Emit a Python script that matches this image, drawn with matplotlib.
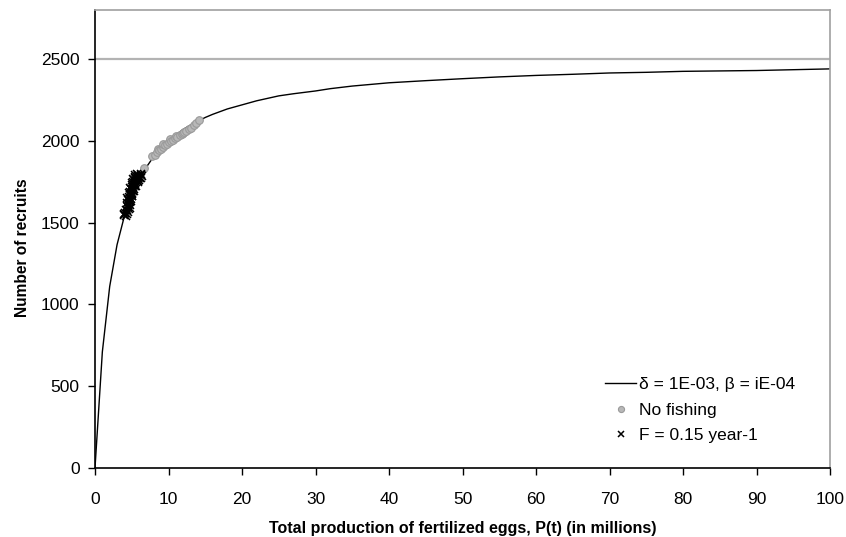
import numpy as np
import matplotlib.pyplot as plt

plt.rcParams['font.family'] = ['Liberation Sans', 'DejaVu Sans']

# stock-recruitment curve
curve_p = [0, 1, 2, 3, 4, 5, 6, 7, 8, 9, 10, 11, 12, 13, 14, 15, 16, 18, 20, 22, 25, 27,
           30, 32, 35, 40, 45, 50, 55, 60, 65, 70, 75, 80, 90, 100]
curve_r = [0, 710, 1110, 1365, 1540, 1665, 1765, 1840, 1905, 1957, 2000, 2037, 2070, 2097,
           2120, 2143, 2162, 2195, 2220, 2245, 2275, 2288, 2305, 2319, 2335, 2355, 2368,
           2380, 2391, 2400, 2407, 2415, 2419, 2425, 2430, 2440]

# no fishing simulation (grey circles)
nofish_p = [6.7, 7.8, 8.1, 8.4, 8.6, 8.7, 9.0, 9.2, 9.3, 9.5, 9.8, 10.0, 10.2, 10.3, 10.6,
            10.9, 11.0, 11.2, 11.5, 11.8, 12.0, 12.1, 12.4, 12.8, 13.1, 13.5, 13.8, 14.1]
nofish_r = [1832, 1905, 1915, 1930, 1950, 1942, 1950, 1962, 1978, 1972, 1980, 1990, 2010, 1998, 2008,
            2015, 2030, 2025, 2035, 2042, 2045, 2052, 2060, 2070, 2080, 2095, 2110, 2125]

# F = 0.15 simulation (crosses)
fish_p = [4.2, 4.3, 4.1, 4.5, 4.4, 4.2, 4.6, 4.5, 4.3, 4.7, 4.6, 4.4, 4.8, 4.7, 4.5, 4.9,
          4.8, 4.6, 5.0, 4.9, 4.7, 5.1, 5.0, 4.8, 5.2, 5.1, 4.9, 5.3, 5.2, 5.0, 5.4, 5.3,
          5.1, 5.5, 5.4, 5.2, 5.6, 5.5, 5.3, 5.7, 5.6, 5.4, 5.8, 5.7, 5.5, 5.9, 5.8, 6.0,
          6.1, 6.0, 5.9, 4.0, 6.2, 6.3, 3.9, 4.7, 4.9, 5.1, 5.3, 5.6, 5.8, 4.4, 4.6, 4.8,
          5.0, 5.2, 5.5, 5.7, 6.2, 6.4]
fish_r = [1540, 1555, 1560, 1565, 1575, 1580, 1585, 1595, 1600, 1605, 1615, 1620, 1625, 1635,
          1640, 1645, 1650, 1655, 1660, 1668, 1672, 1676, 1684, 1688, 1692, 1700, 1704, 1708,
          1715, 1718, 1722, 1730, 1733, 1737, 1744, 1747, 1751, 1757, 1760, 1763, 1768, 1771,
          1774, 1779, 1782, 1784, 1789, 1780, 1770, 1760, 1750, 1550, 1790, 1795, 1545, 1590,
          1630, 1665, 1695, 1725, 1755, 1650, 1680, 1710, 1740, 1765, 1790, 1800, 1775, 1785]

xticks = np.arange(0, 101, 10)
yticks = np.arange(0, 2501, 500)

fig = plt.figure(figsize=(8.46, 5.37), dpi=100)
ax = fig.add_axes([95/846, 1-468/537, (830-95)/846, (468-10)/537])

ax.axhline(2500, color='#b3b3b3', lw=1.6, zorder=0)
ax.plot(curve_p, curve_r, color='black', lw=1, label='δ = 1E-03, β = iE-04', zorder=2)
ax.plot(nofish_p, nofish_r, ls='none', marker='o', ms=5.5, mfc='#b8b8b8', mec='#9a9a9a',
        mew=0.8, label='No fishing', zorder=3)
ax.plot(fish_p, fish_r, ls='none', marker='x', ms=5.5, mec='black', mew=1.1,
        label='F = 0.15 year-1', zorder=4)

ax.set_xlim(0, 100)
ax.set_ylim(0, 2800)
ax.set_xticks(xticks)
ax.set_yticks(yticks)
ax.tick_params(axis='both', direction='out', length=5, width=1, labelsize=12.5)
ax.tick_params(axis='x', pad=12)
ax.tick_params(axis='y', pad=6)
for s in ['top', 'right']:
    ax.spines[s].set_color('#a0a0a0')
    ax.spines[s].set_linewidth(1.2)
for s in ['left', 'bottom']:
    ax.spines[s].set_color('black')
    ax.spines[s].set_linewidth(1.2)

ax.set_xlabel('Total production of fertilized eggs, P(t) (in millions)', fontsize=11.5,
              fontweight='bold', labelpad=10)
ax.set_ylabel('Number of recruits', fontsize=11.2, fontweight='bold')
ax.yaxis.set_label_coords(-0.0886, 0.48)

leg = ax.legend(loc='upper left', bbox_to_anchor=((605 - 95)/735, (468 - 377)/458),
                frameon=False, fontsize=12.5, borderpad=0, borderaxespad=0,
                handlelength=1.8, handletextpad=0.15, labelspacing=0.6, markerscale=0.8)

fig.savefig('out.png', dpi=100)
